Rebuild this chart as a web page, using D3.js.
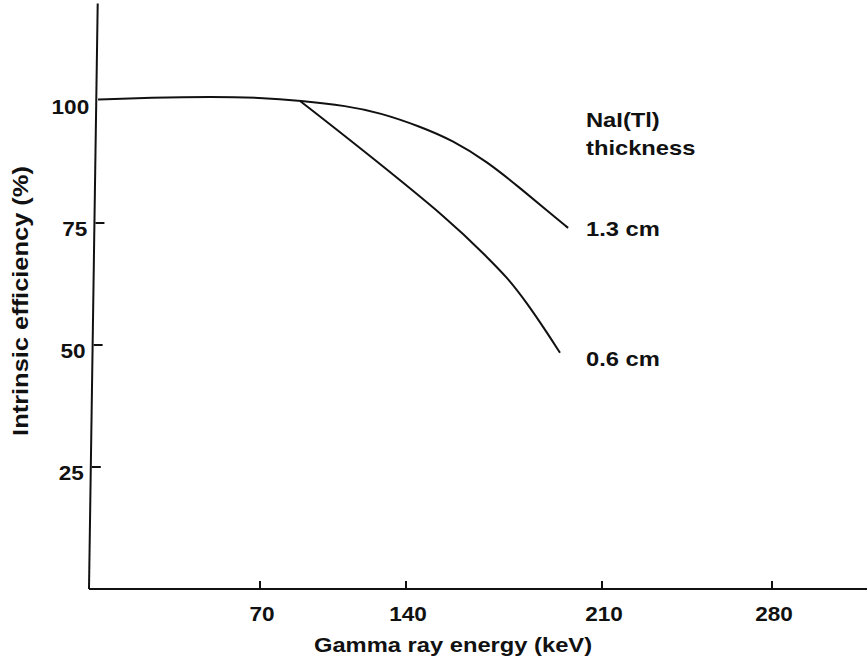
<!DOCTYPE html>
<html>
<head>
<meta charset="utf-8">
<script src="https://cdn.jsdelivr.net/npm/d3@7/dist/d3.min.js"></script>
<style>
  body { margin: 0; background: #fff; }
  text { font-family: "Liberation Sans", Arial, sans-serif; font-weight: bold; fill: #111; }
</style>
</head>
<body>
<svg id="chart" width="867" height="661"></svg>
<script>
// efficiency curves
var energy13 = [3.7, 25, 50.8, 70, 89.2, 111.7, 127.5, 145, 156.8, 168.9, 180.7, 192.5, 197.9],
    eff13    = [100.3, 100.7, 100.9, 100.7, 100.1, 99.0, 97.6, 94.8, 91.9, 87.6, 82.2, 76.5, 74.0];

var energy06 = [89.2, 118, 156.8, 168.9, 176.1, 183.2, 190.4, 195],
    eff06    = [100.0, 90.4, 75.0, 68.0, 63.9, 58.6, 52.5, 48.4];

var xTicks = [70, 140, 210, 280],
    yTicks = [25, 50, 75, 100],
    seriesLabels = ["1.3 cm", "0.6 cm"];

var svg = d3.select("#chart");

// hand drawn axis: ticks are not evenly spaced, so piecewise scale
var x = d3.scaleLinear().domain([0, 70, 140, 210, 280]).range([89, 260, 406, 602, 772]);
var y = d3.scaleLinear().domain([0, 120]).range([589, 3.4]);
// y axis leans slightly to the right going up
var lean = d3.scaleLinear().domain([0, 120]).range([89, 97.7]);

var stretch = 1.13;
function label(px, py, str, anchor, size){
  return svg.append("text")
    .attr("transform", "translate(" + px + "," + py + ") scale(" + stretch + ",1)")
    .attr("text-anchor", anchor || "start")
    .style("font-size", (size || 21) + "px")
    .text(str);
}

// axes
svg.append("line")
  .attr("x1", lean(0)).attr("y1", y(0))
  .attr("x2", lean(120)).attr("y2", y(120))
  .attr("stroke", "#111").attr("stroke-width", 2);

svg.append("line")
  .attr("x1", lean(0)).attr("y1", y(0))
  .attr("x2", 867).attr("y2", y(0))
  .attr("stroke", "#111").attr("stroke-width", 2);

xTicks.forEach(function(t){
  svg.append("line")
    .attr("x1", x(t)).attr("x2", x(t))
    .attr("y1", y(0)).attr("y2", y(0) - 8)
    .attr("stroke", "#111").attr("stroke-width", 2);
  label(x(t) + 2, 621, t, "middle", 20);
});

yTicks.forEach(function(t){
  if(t != 100){
    svg.append("line")
      .attr("x1", lean(t) + 1).attr("x2", lean(t) + 10)
      .attr("y1", y(t)).attr("y2", y(t))
      .attr("stroke", "#111").attr("stroke-width", 2);
  }
  label(lean(t) - 7, y(t) + 13, t, "end", 20);
});

// curves
var line = d3.line()
  .x(function(d){ return x(d[0]); })
  .y(function(d){ return y(d[1]); })
  .curve(d3.curveBasis);

[[energy13, eff13], [energy06, eff06]].forEach(function(s){
  svg.append("path")
    .datum(d3.zip(s[0], s[1]))
    .attr("d", line)
    .attr("fill", "none")
    .attr("stroke", "#111")
    .attr("stroke-width", 2);
});

// curve labels
label(586, 127, "NaI(Tl)");
label(586, 155, "thickness");
label(586, 236, seriesLabels[0]);
label(586, 366, seriesLabels[1]);

// axis titles
label(453, 652, "Gamma ray energy (keV)", "middle", 21);

svg.append("text")
  .attr("transform", "translate(28,301) rotate(-90) scale(" + stretch + ",1)")
  .attr("text-anchor", "middle")
  .style("font-size", "22.5px")
  .text("Intrinsic efficiency (%)");
</script>
</body>
</html>
